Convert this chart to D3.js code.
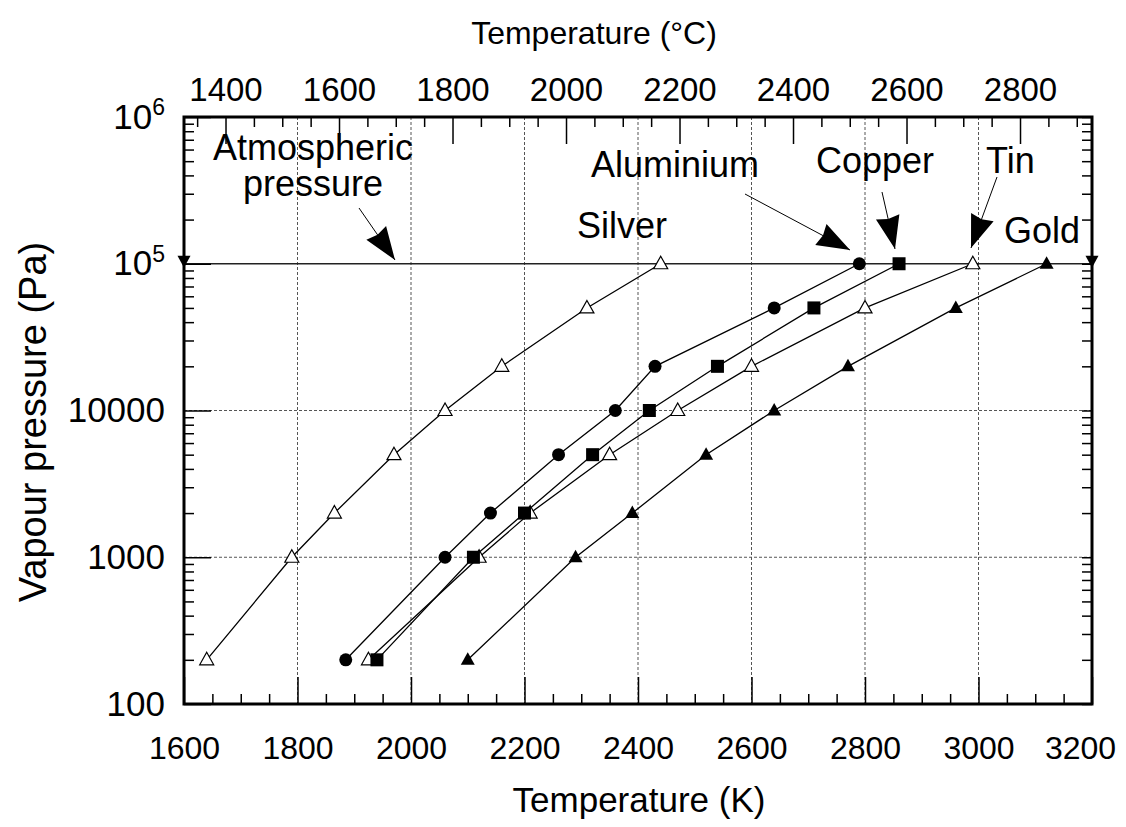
<!DOCTYPE html>
<html>
<head>
<meta charset="utf-8">
<script src="https://cdn.jsdelivr.net/npm/d3@7"></script>
<style>
  body { margin: 0; background: #fff; }
  text { font-family: "Liberation Sans", Arial, Helvetica, sans-serif; fill: #000; }
</style>
</head>
<body>
<script>

// Data (temperature in K at each vapour pressure)
// ==============================
var pressures = [200, 1000, 2000, 5000, 10000, 20000, 50000, 100000];
var silverK    = [1640, 1790, 1865, 1970, 2060, 2160, 2310, 2440];
var aluminiumK = [1885, 2060, 2140, 2260, 2360, 2430, 2640, 2790];
var copperK    = [1940, 2110, 2200, 2320, 2420, 2540, 2710, 2860];
var tinK       = [1925, 2120, 2210, 2350, 2470, 2600, 2800, 2990];
var goldK      = [2100, 2290, 2390, 2520, 2640, 2770, 2960, 3120];

var kelvinTicks = [1600, 1800, 2000, 2200, 2400, 2600, 2800, 3000, 3200];
var celsiusTicks = [1400, 1600, 1800, 2000, 2200, 2400, 2600, 2800];
var pressureTicks = [100, 1000, 10000, 100000, 1000000];
var atmospheric = 100000;

var series = [
  {name: "Silver", temps: silverK, marker: "openTri"},
  {name: "Aluminium", temps: aluminiumK, marker: "circle"},
  {name: "Tin", temps: tinK, marker: "openTri"},
  {name: "Copper", temps: copperK, marker: "square"},
  {name: "Gold", temps: goldK, marker: "filledTri"}
];

var svgWidth = 1126;
var svgHeight = 827;
var margin = {top: 117, right: 34, bottom: 123, left: 184};
var width = svgWidth - margin.left - margin.right;
var height = svgHeight - margin.top - margin.bottom;

var svg = d3.select("body")
  .append("svg")
  .attr("width", svgWidth)
  .attr("height", svgHeight);

var chartGroup = svg.append("g")
  .attr("transform", `translate(${margin.left}, ${margin.top})`);

// Scales
// ==============================
var xScale = d3.scaleLinear().domain([1600, 3200]).range([0, width]);
var cScale = d3.scaleLinear().domain([1600 - 273.15, 3200 - 273.15]).range([0, width]);
var yScale = d3.scaleLog().domain([100, 1e6]).range([height, 0]);

var minorK = d3.range(1600, 3201, 50).filter(d => d % 200 != 0);
var minorC = d3.range(1350, 2901, 50).filter(d => d % 200 != 0);
var minorP = [];
[100, 1000, 10000, 100000].forEach(function(dec) {
  for (var i = 2; i < 10; i++) minorP.push(dec * i);
});

// Grid lines
// ==============================
chartGroup.selectAll(".vgrid")
  .data(kelvinTicks.slice(1, -1))
  .enter()
  .append("line")
  .attr("x1", d => xScale(d)).attr("x2", d => xScale(d))
  .attr("y1", 0).attr("y2", height)
  .attr("stroke", "#555").attr("stroke-width", 1)
  .attr("stroke-dasharray", "3,2");

chartGroup.selectAll(".hgrid")
  .data([1000, 10000])
  .enter()
  .append("line")
  .attr("x1", 0).attr("x2", width)
  .attr("y1", d => yScale(d)).attr("y2", d => yScale(d))
  .attr("stroke", "#555").attr("stroke-width", 1)
  .attr("stroke-dasharray", "3,2");

// atmospheric pressure line
chartGroup.append("line")
  .attr("x1", 0).attr("x2", width)
  .attr("y1", yScale(atmospheric)).attr("y2", yScale(atmospheric))
  .attr("stroke", "#222").attr("stroke-width", 1.3);

// Axes
// ==============================
function styleAxis(size) {
  return function(g) {
    g.select(".domain").remove();
    g.selectAll(".tick line").attr("stroke", "#000").attr("stroke-width", 1.5);
    g.selectAll("text").style("font-size", size);
  };
}

var bottomAxis = chartGroup.append("g")
  .attr("transform", `translate(0, ${height})`)
  .call(d3.axisBottom(xScale).tickValues(kelvinTicks).tickSize(-27).tickPadding(32).tickFormat(d3.format("d")))
  .call(styleAxis("32px"));
// last label is pulled in so it stays on the page
bottomAxis.selectAll(".tick text").filter(d => d == 3200).attr("dx", -12);

chartGroup.append("g")
  .attr("transform", `translate(0, ${height})`)
  .call(d3.axisBottom(xScale).tickValues(minorK).tickSize(-10).tickFormat(""))
  .call(styleAxis("32px"));

chartGroup.append("g")
  .call(d3.axisTop(cScale).tickValues(celsiusTicks).tickSize(-27).tickPadding(16).tickFormat(d3.format("d")))
  .call(styleAxis("33px"));
chartGroup.append("g")
  .call(d3.axisTop(cScale).tickValues(minorC).tickSize(-10).tickFormat(""))
  .call(styleAxis("33px"));

var leftAxis = chartGroup.append("g")
  .call(d3.axisLeft(yScale).tickValues(pressureTicks).tickSize(-27).tickPadding(19).tickFormat(""))
  .call(styleAxis("35px"));
leftAxis.selectAll(".tick text").each(function(d) {
  var t = d3.select(this);
  if (d >= 100000) {
    t.text("10");
    t.append("tspan")
      .attr("dy", "-0.6em")
      .style("font-size", "23px")
      .text(Math.round(Math.log10(d)));
  } else {
    t.text(d);
  }
});
chartGroup.append("g")
  .call(d3.axisLeft(yScale).tickValues(minorP).tickSize(-10).tickFormat(""))
  .call(styleAxis("35px"));

chartGroup.append("g")
  .attr("transform", `translate(${width}, 0)`)
  .call(d3.axisRight(yScale).tickValues(minorP.concat(pressureTicks)).tickSize(-10).tickFormat(""))
  .call(styleAxis("35px"));

// frame
chartGroup.append("rect")
  .attr("x", 0).attr("y", 0)
  .attr("width", width).attr("height", height)
  .attr("fill", "none")
  .attr("stroke", "#000")
  .attr("stroke-width", 3);

// edge markers at atmospheric pressure
chartGroup.selectAll(".edgeTri")
  .data([0, width])
  .enter()
  .append("path")
  .attr("d", d => `M${d - 6.5},${yScale(atmospheric) - 8} L${d + 6.5},${yScale(atmospheric) - 8} L${d},${yScale(atmospheric) + 4} Z`)
  .attr("fill", "#000");

// Lines and markers
// ==============================
var line = d3.line()
  .x(d => xScale(d[0]))
  .y(d => yScale(d[1]));

var triPath = "M0,-7.5 L7,5 L-7,5 Z";

series.forEach(function(s) {
  var pts = s.temps.map((t, i) => [t, pressures[i]]);

  chartGroup.append("path")
    .datum(pts)
    .attr("d", line)
    .attr("fill", "none")
    .attr("stroke", "#000")
    .attr("stroke-width", 1.3);

  var marks = chartGroup.selectAll(null)
    .data(pts)
    .enter()
    .append("g")
    .attr("transform", d => `translate(${xScale(d[0])}, ${yScale(d[1])})`);

  if (s.marker == "circle") {
    marks.append("circle").attr("r", 6.5).attr("fill", "#000");
  } else if (s.marker == "square") {
    marks.append("rect").attr("x", -6.5).attr("y", -6.5).attr("width", 13).attr("height", 13).attr("fill", "#000");
  } else if (s.marker == "filledTri") {
    marks.append("path").attr("d", triPath).attr("fill", "#000");
  } else {
    marks.append("path").attr("d", triPath).attr("fill", "#fff").attr("stroke", "#000").attr("stroke-width", 1.2);
  }
});

// Annotations
// ==============================
var labelSize = "36px";

function addArrow(x1, y1, x2, y2, len, half) {
  chartGroup.append("line")
    .attr("x1", x1).attr("y1", y1).attr("x2", x2).attr("y2", y2)
    .attr("stroke", "#000").attr("stroke-width", 1);
  var ang = Math.atan2(y2 - y1, x2 - x1);
  var bx = x2 - len * Math.cos(ang), by = y2 - len * Math.sin(ang);
  var px = -Math.sin(ang) * half, py = Math.cos(ang) * half;
  var nx = x2 - len * 0.93 * Math.cos(ang), ny = y2 - len * 0.93 * Math.sin(ang);
  chartGroup.append("path")
    .attr("d", `M${x2},${y2} L${bx + px},${by + py} L${nx},${ny} L${bx - px},${by - py} Z`)
    .attr("fill", "#000");
}

var ox = margin.left, oy = margin.top;

chartGroup.append("text").attr("x", 313 - ox).attr("y", 160 - oy).attr("text-anchor", "middle").style("font-size", labelSize).text("Atmospheric");
chartGroup.append("text").attr("x", 313 - ox).attr("y", 196 - oy).attr("text-anchor", "middle").style("font-size", labelSize).text("pressure");
addArrow(359 - ox, 208 - oy, 395 - ox, 260 - oy, 33, 12);

chartGroup.append("text").attr("x", 577 - ox).attr("y", 238 - oy).style("font-size", labelSize).text("Silver");

chartGroup.append("text").attr("x", 591 - ox).attr("y", 177 - oy).style("font-size", labelSize).text("Aluminium");
addArrow(745 - ox, 194 - oy, 850 - ox, 250 - oy, 33, 12);

chartGroup.append("text").attr("x", 816 - ox).attr("y", 173 - oy).style("font-size", labelSize).text("Copper");
addArrow(882 - ox, 192 - oy, 895 - ox, 249 - oy, 33, 12);

chartGroup.append("text").attr("x", 986 - ox).attr("y", 173 - oy).style("font-size", labelSize).text("Tin");
addArrow(997 - ox, 177 - oy, 971 - ox, 248 - oy, 33, 12);

chartGroup.append("text").attr("x", 1004 - ox).attr("y", 243 - oy).style("font-size", labelSize).text("Gold");

// Axis titles
// ==============================
svg.append("text")
  .attr("x", 639)
  .attr("y", 812)
  .attr("text-anchor", "middle")
  .style("font-size", "35px")
  .text("Temperature (K)");

svg.append("text")
  .attr("x", 594)
  .attr("y", 44)
  .attr("text-anchor", "middle")
  .style("font-size", "32px")
  .text("Temperature (°C)");

svg.append("text")
  .attr("transform", "rotate(-90)")
  .attr("x", -422)
  .attr("y", 46)
  .attr("text-anchor", "middle")
  .style("font-size", "38px")
  .text("Vapour pressure (Pa)");

</script>
</body>
</html>
